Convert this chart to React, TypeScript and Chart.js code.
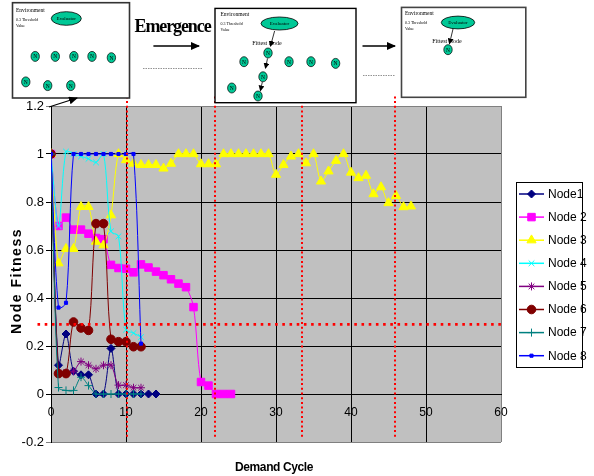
import React, { useEffect, useRef } from 'react';
import { Chart, registerables } from 'chart.js';
import { drawPoint } from 'chart.js/helpers';

Chart.register(...registerables);

// ---------- data ----------
const seriesNames = ['Node1', 'Node 2', 'Node 3', 'Node 4', 'Node 5', 'Node 6', 'Node 7', 'Node 8'];
const node1 = [1, 0.12, 0.25, 0.095, 0.08, 0.08, 0, 0, 0.19, 0, 0, 0, 0, 0, 0];
const node2 = [1, 0.7, 0.735, 0.685, 0.685, 0.668, 0.65, 0.645, 0.538, 0.525, 0.522, 0.507, 0.54, 0.527, 0.51, 0.495, 0.478, 0.46, 0.445, 0.362, 0.05, 0.035, 0, 0, 0];
const node3 = [1, 0.545, 0.605, 0.605, 0.78, 0.78, 0.635, 0.62, 0.745, 1.0, 0.975, 0.96, 0.955, 0.955, 0.955, 0.94, 0.96, 1.0, 1.0, 1.0, 0.958, 0.958, 0.958, 1.0, 1.0, 1.0, 1.0, 1.0, 1.0, 1.0, 0.914, 0.955, 0.99, 1.0, 0.962, 1.0, 0.886, 0.928, 0.972, 1.0, 0.923, 0.9, 0.91, 0.833, 0.862, 0.796, 0.826, 0.779, 0.782];
const node4 = [1, 0.7, 1.01, 1.0, 0.99, 0.98, 0.965, 1.0, 0.678, 0.657, 0.268, 0.254, 0.237];
const node5 = [1, 0.09, 0.09, 0.095, 0.135, 0.12, 0.105, 0.12, 0.12, 0.037, 0.037, 0.026, 0.026];
const node6 = [1, 0.085, 0.085, 0.3, 0.275, 0.265, 0.71, 0.71, 0.228, 0.218, 0.218, 0.197, 0.197];
const node7 = [1, 0.027, 0.015, 0.015, 0.07, 0.035, 0, 0, 0, 0, 0, 0, 0];
const node8 = [1, 0.36, 0.38, 1, 1, 1, 1, 1, 1, 1, 1, 1, 0.21];

const xMin = 0, xMax = 60, xStep = 10;
const yMin = -0.2, yMax = 1.2, yStep = 0.2;

// red dotted reference lines
const cycleMarkers = [10.1, 21.8, 33.5, 45.9];
const markerTop = 1.24;
const markerBottom = -0.185;
const threshold = 0.29;
const thresholdFrom = -1.8;

// ---------- styles ----------
const seriesStyle = [
  { color: '#000080', style: 'rectRot', r: 4 },
  { color: '#FF00FF', style: 'rect', r: 5.3 },
  { color: '#FFFF00', style: 'triangle', r: 5.3 },
  { color: '#00FFFF', style: 'crossRot', r: 4 },
  { color: '#800080', style: 'star', r: 4 },
  { color: '#800000', style: 'circle', r: 4.3 },
  { color: '#008080', style: 'cross', r: 4 },
  { color: '#0000FF', style: 'rect', r: 2.2 },
];
const seriesValues = [node1, node2, node3, node4, node5, node6, node7, node8];

const FONT = '"Liberation Sans", Arial, sans-serif';

const bgPlugin = {
  id: 'plotBg',
  beforeDraw(chart: any) {
    const { ctx, chartArea: a } = chart;
    ctx.save();
    ctx.fillStyle = '#C0C0C0';
    ctx.fillRect(a.left, a.top, a.right - a.left, a.bottom - a.top);
    ctx.restore();
  },
};

const refLinesPlugin = {
  id: 'refLines',
  afterDatasetsDraw(chart: any) {
    const { ctx } = chart;
    const x = chart.scales.x, y = chart.scales.y;
    ctx.save();
    ctx.strokeStyle = '#FF0000';
    ctx.lineWidth = 2;
    ctx.setLineDash([2, 2.7]);
    cycleMarkers.forEach((v) => {
      const px = Math.round(x.getPixelForValue(v));
      ctx.beginPath();
      ctx.moveTo(px, y.getPixelForValue(markerTop));
      ctx.lineTo(px, y.getPixelForValue(markerBottom));
      ctx.stroke();
    });
    ctx.lineWidth = 2.6;
    ctx.setLineDash([2.6, 4.6]);
    const py = y.getPixelForValue(threshold);
    ctx.beginPath();
    ctx.moveTo(x.getPixelForValue(thresholdFrom), py);
    ctx.lineTo(x.getPixelForValue(xMax), py);
    ctx.stroke();
    ctx.restore();
  },
};

const legendPlugin = {
  id: 'boxLegend',
  afterDraw(chart: any) {
    const ctx = chart.ctx;
    const L = 516, T = 182, W = 66, H = 185;
    ctx.save();
    ctx.fillStyle = '#FFFFFF';
    ctx.fillRect(L, T, W, H);
    ctx.strokeStyle = '#000000';
    ctx.lineWidth = 1;
    ctx.strokeRect(L + 0.5, T + 0.5, W, H);
    chart.data.datasets.forEach((ds: any, i: number) => {
      const yy = T + 12 + i * 23.1;
      ctx.strokeStyle = ds.borderColor;
      ctx.lineWidth = 1.5;
      ctx.setLineDash([]);
      ctx.beginPath();
      ctx.moveTo(L + 3, yy);
      ctx.lineTo(L + 28, yy);
      ctx.stroke();
      ctx.fillStyle = ds.pointBackgroundColor;
      ctx.strokeStyle = ds.pointBorderColor;
      ctx.lineWidth = ds.pointBorderWidth;
      drawPoint(ctx, { pointStyle: ds.pointStyle, radius: ds.pointRadius, rotation: 0, borderWidth: ds.pointBorderWidth } as any, L + 15.5, yy);
      ctx.fillStyle = '#000000';
      ctx.font = '12px ' + FONT;
      ctx.textBaseline = 'middle';
      ctx.textAlign = 'left';
      ctx.fillText(ds.label, L + 32, yy + 0.5);
    });
    ctx.restore();
  },
};

const near = (a: number, b: number) => Math.abs(a - b) < 1e-6;

function NNode({ cx, cy }: { cx: number; cy: number }) {
  return (
    <g>
      <ellipse cx={cx} cy={cy} rx={4.2} ry={5} fill="#00C896" stroke="#000" strokeWidth={0.7} />
      <text x={cx} y={cy + 2} fontSize={5.5} textAnchor="middle" fontFamily='"Liberation Serif", serif'>N</text>
    </g>
  );
}

function EnvText({ x, y }: { x: number; y: number }) {
  return (
    <g fontFamily='"Liberation Serif", serif' fill="#000">
      <text x={x} y={y} fontSize={5.5}>Environment</text>
      <text x={x} y={y + 9} fontSize={4}>0.3 Threshold</text>
      <text x={x} y={y + 15} fontSize={4}>Value</text>
    </g>
  );
}

function Evaluator({ cx, cy, rx, ry }: { cx: number; cy: number; rx: number; ry: number }) {
  return (
    <g>
      <ellipse cx={cx} cy={cy} rx={rx} ry={ry} fill="#00C896" stroke="#000" strokeWidth={0.8} />
      <text x={cx} y={cy + 1.8} fontSize={5} textAnchor="middle" fontFamily='"Liberation Serif", serif'>Evaluator</text>
    </g>
  );
}

function Diagram() {
  return (
    <svg width={594} height={476} style={{ position: 'absolute', left: 0, top: 0, pointerEvents: 'none' }}>
      <defs>
        <marker id="ah" markerUnits="userSpaceOnUse" markerWidth={9} markerHeight={8} refX={8} refY={4} orient="auto">
          <path d="M0,0 L9,4 L0,8 z" fill="#000" />
        </marker>
        <marker id="ahs" markerUnits="userSpaceOnUse" markerWidth={6} markerHeight={6} refX={5} refY={3} orient="auto">
          <path d="M0,0 L6,3 L0,6 z" fill="#000" />
        </marker>
      </defs>
      {/* box 1 */}
      <rect x={12.5} y={2.7} width={117} height={95.3} fill="#fff" stroke="#333" strokeWidth={1.6} />
      <EnvText x={16} y={12} />
      <Evaluator cx={66.3} cy={18.5} rx={15} ry={6.8} />
      {[[35.2, 56.4], [55.3, 56.4], [73.9, 56.4], [92, 56.4], [111.4, 57.7], [25.8, 81.9], [47.7, 85.6], [70.8, 85.6]].map(([cx, cy], i) => (
        <NNode key={'a' + i} cx={cx} cy={cy} />
      ))}
      <line x1={49} y1={107} x2={77} y2={98} stroke="#000" strokeWidth={1.2} markerEnd="url(#ah)" />

      {/* Emergence */}
      <text x={134.5} y={31.5} fontSize={18} fontWeight="bold" fontFamily='"Liberation Serif", serif' letterSpacing={-1.1}>Emergence</text>
      <line x1={153.4} y1={46} x2={199} y2={46} stroke="#000" strokeWidth={1.5} markerEnd="url(#ah)" />
      <line x1={143} y1={68.5} x2={203} y2={68.5} stroke="#777" strokeWidth={0.8} strokeDasharray="1.5 1" />

      {/* box 2 */}
      <rect x={215} y={8.4} width={141} height={94.3} fill="#fff" stroke="#000" strokeWidth={1.4} />
      <EnvText x={220.5} y={16} />
      <Evaluator cx={279.5} cy={23.5} rx={18.5} ry={6.5} />
      <text x={267} y={45} fontSize={6} textAnchor="middle" fontFamily='"Liberation Serif", serif'>Fittest Node</text>
      <line x1={274.6} y1={31} x2={270.5} y2={46} stroke="#000" strokeWidth={0.8} markerEnd="url(#ahs)" />
      {[[268, 53], [244, 61.7], [289, 61.7], [311, 61.7], [335.6, 63.4], [263, 76.8], [231.8, 88], [258, 96]].map(([cx, cy], i) => (
        <NNode key={'b' + i} cx={cx} cy={cy} />
      ))}
      <line x1={267.5} y1={58.5} x2={265.5} y2={68} stroke="#000" strokeWidth={0.8} markerEnd="url(#ahs)" />
      <line x1={262.3} y1={82} x2={260.5} y2={90.5} stroke="#000" strokeWidth={0.8} markerEnd="url(#ahs)" />

      <line x1={362.5} y1={46} x2={395} y2={46} stroke="#000" strokeWidth={1.5} markerEnd="url(#ah)" />
      <line x1={363} y1={75.5} x2={395} y2={75.5} stroke="#777" strokeWidth={0.8} strokeDasharray="1.5 1" />

      {/* box 3 */}
      <rect x={401.5} y={7.4} width={124.3} height={89.9} fill="#fff" stroke="#444" strokeWidth={1.6} />
      <EnvText x={405} y={15} />
      <Evaluator cx={458} cy={22.5} rx={16.7} ry={6.4} />
      <text x={447} y={43} fontSize={6} textAnchor="middle" fontFamily='"Liberation Serif", serif'>Fittest Node</text>
      <NNode cx={448} cy={49.7} />
      <line x1={453} y1={29} x2={449.5} y2={43.5} stroke="#000" strokeWidth={0.8} markerEnd="url(#ahs)" />
    </svg>
  );
}

export default function App() {
  const ref = useRef<HTMLCanvasElement | null>(null);

  useEffect(() => {
    if (!ref.current) return;
    Chart.defaults.font.family = FONT;
    const datasets = seriesValues.map((vals, i) => {
      const s = seriesStyle[i];
      const filled = s.style !== 'cross' && s.style !== 'crossRot' && s.style !== 'star';
      return {
        label: seriesNames[i],
        data: vals.map((v, k) => ({ x: k, y: v })),
        borderColor: s.color,
        backgroundColor: s.color,
        borderWidth: 1,
        pointStyle: s.style,
        pointRadius: s.r,
        pointBackgroundColor: filled ? s.color : 'transparent',
        pointBorderColor: s.color,
        pointBorderWidth: 1,
        tension: 0.3,
        order: seriesNames.length - i,
      };
    });
    const chart = new Chart(ref.current, {
      type: 'line',
      data: { datasets },
      options: {
        animation: false,
        responsive: false,
        maintainAspectRatio: false,
        layout: { padding: { left: 0, top: 106, right: 93, bottom: 34 } },
        plugins: { legend: { display: false }, tooltip: { enabled: false } },
        scales: {
          x: {
            type: 'linear',
            position: { y: 0 } as any,
            min: xMin,
            max: xMax,
            ticks: { stepSize: xStep, color: '#000', font: { size: 12 }, padding: 7, maxRotation: 0 },
            grid: {
              color: (c: any) => (near(c.tick.value, xMax) ? '#808080' : '#000000'),
              lineWidth: 1,
              tickLength: 4,
              drawOnChartArea: true,
            },
            border: { display: true, color: '#000', width: 1 },
          },
          y: {
            type: 'linear',
            position: 'left',
            min: yMin,
            max: yMax,
            afterFit: (scale: any) => { scale.width = 51; },
            ticks: {
              stepSize: yStep,
              color: '#000',
              font: { size: 13 },
              padding: 2,
              callback: (v: any) => String(Math.round(Number(v) * 10) / 10),
            },
            grid: {
              color: (c: any) => (near(c.tick.value, yMax) || near(c.tick.value, yMin) ? '#808080' : '#000000'),
              lineWidth: 1,
              tickLength: 5,
            },
            border: { display: true, color: '#000', width: 1 },
          },
        },
      },
      plugins: [bgPlugin, refLinesPlugin, legendPlugin],
    } as any);
    return () => chart.destroy();
  }, []);

  return (
    <div style={{ position: 'fixed', left: 0, top: 0, width: 594, height: 476, background: '#fff', overflow: 'hidden' }}>
      <canvas ref={ref} width={594} height={476} style={{ position: 'absolute', left: 0, top: 0, width: 594, height: 476 }} />
      <Diagram />
      <div style={{ position: 'absolute', left: 274, top: 467, transform: 'translate(-50%, -50%)', font: 'bold 12px ' + FONT, letterSpacing: '-0.4px', whiteSpace: 'nowrap', color: '#000' }}>
        Demand Cycle
      </div>
      <div style={{ position: 'absolute', left: 16, top: 281, transform: 'translate(-50%, -50%) rotate(-90deg)', font: 'bold 14px ' + FONT, letterSpacing: '1.5px', whiteSpace: 'nowrap', color: '#000' }}>
        Node Fitness
      </div>
    </div>
  );
}
